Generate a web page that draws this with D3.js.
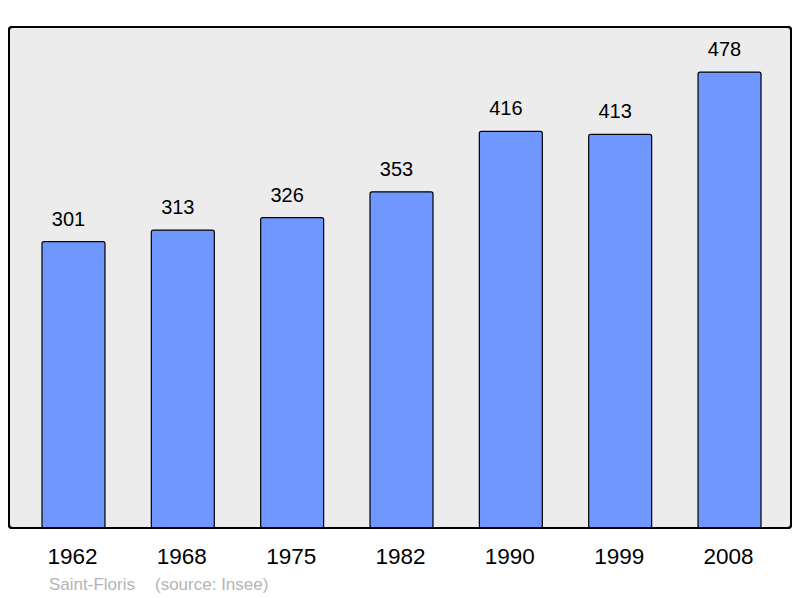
<!DOCTYPE html>
<html><head><meta charset="utf-8">
<script src="https://cdn.jsdelivr.net/npm/d3@7"></script>
<style>body{margin:0;background:#fff}svg{display:block}</style>
</head><body>
<svg id="c" width="800" height="598"></svg>
<script>
const years = ["1962","1968","1975","1982","1990","1999","2008"];
const population = [301,313,326,353,416,413,478];
const townName = "Saint-Floris";
const sourceText = "(source: Insee)";

const svg = d3.select("#c");
const font = "'Liberation Sans', Arial, sans-serif";
const frame = {x0:9, y0:27, x1:791, y1:528};

svg.append("rect").attr("x",frame.x0).attr("y",frame.y0)
  .attr("width",frame.x1-frame.x0).attr("height",frame.y1-frame.y0)
  .attr("rx",3).attr("fill","#ececec").attr("stroke","#000").attr("stroke-width",2);

const x = d3.scaleBand().domain(years).range([18.8,784.2]).paddingInner(0.424).paddingOuter(0.212);
const y = d3.scaleLinear().domain([0,525]).range([530,27]);

const g = svg.append("g");
g.selectAll("rect.bar").data(population).join("rect").attr("class","bar")
  .attr("x",(d,i)=>x(years[i])).attr("y",d=>y(d))
  .attr("width",x.bandwidth()).attr("height",d=>frame.y1-y(d))
  .attr("rx",2).attr("fill","#7097ff").attr("stroke","#000").attr("stroke-width",1.2);

g.selectAll("text.val").data(population).join("text").attr("class","val")
  .attr("x",(d,i)=>x(years[i])+x.bandwidth()/2-5).attr("y",d=>y(d)-16)
  .attr("text-anchor","middle").attr("font-family",font).attr("font-size",20)
  .attr("fill","#000").text(d=>d);

svg.append("rect").attr("x",frame.x0).attr("y",frame.y0)
  .attr("width",frame.x1-frame.x0).attr("height",frame.y1-frame.y0)
  .attr("rx",3).attr("fill","none").attr("stroke","#000").attr("stroke-width",2);

const xAxis = d3.axisBottom(x).tickSize(0).tickPadding(0);
const ax = svg.append("g").attr("transform",`translate(-1,${frame.y1})`).call(xAxis);
ax.select(".domain").remove();
ax.selectAll("text").attr("font-family",font).attr("font-size",22.5).attr("fill","#000")
  .attr("dy",null).attr("y",36);

svg.append("text").attr("x",49).attr("y",590).attr("font-family",font).attr("font-size",17)
  .attr("fill","#b4b4b4").text(townName);
svg.append("text").attr("x",155).attr("y",590).attr("font-family",font).attr("font-size",17)
  .attr("fill","#b4b4b4").text(sourceText);
</script>
</body></html>
